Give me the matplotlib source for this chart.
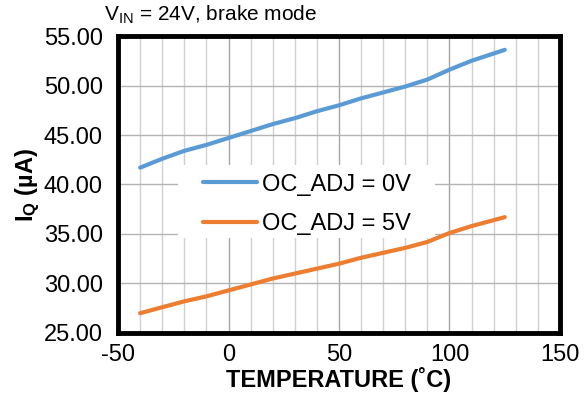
import matplotlib
matplotlib.use('Agg')
import matplotlib.pyplot as plt
from matplotlib.patches import Rectangle
from matplotlib.ticker import MultipleLocator, FormatStrFormatter

plt.rcParams['font.family'] = ['Liberation Sans', 'DejaVu Sans']
plt.rcParams['mathtext.fontset'] = 'custom'
plt.rcParams['mathtext.rm'] = 'Liberation Sans'
plt.rcParams['mathtext.bf'] = 'Liberation Sans:bold'
plt.rcParams['axes.unicode_minus'] = False

# quiescent current vs temperature, brake mode
temp = [-40, -30, -20, -10, 0, 10, 20, 30, 40, 50, 60, 70, 80, 90, 100, 110, 125]
iq_0v = [41.7, 42.6, 43.4, 44.0, 44.7, 45.4, 46.1, 46.7, 47.4, 48.0, 48.7, 49.3, 49.9, 50.6, 51.6, 52.5, 53.6]
iq_5v = [27.0, 27.6, 28.2, 28.7, 29.3, 29.9, 30.5, 31.0, 31.5, 32.0, 32.6, 33.1, 33.6, 34.2, 35.1, 35.8, 36.7]
labels = ['OC_ADJ = 0V', 'OC_ADJ = 5V']

fig = plt.figure(figsize=(5.86, 4.05), dpi=100)
ax = fig.add_axes([0.2014, 0.1778, 0.7542, 0.7333])

ax.plot(temp, iq_0v, color='#5b9bd5', lw=3, label=labels[0], solid_capstyle='round', zorder=3)
ax.plot(temp, iq_5v, color='#ed7d31', lw=3, label=labels[1], solid_capstyle='round', zorder=3)

ax.set_xlim(-50, 150)
ax.set_ylim(25, 55)
ax.xaxis.set_major_locator(MultipleLocator(50))
ax.xaxis.set_minor_locator(MultipleLocator(10))
ax.yaxis.set_major_locator(MultipleLocator(5))
ax.yaxis.set_major_formatter(FormatStrFormatter('%.2f'))

ax.grid(True, which='minor', axis='x', color='#d0d0d0', lw=1.0)
ax.grid(True, which='major', axis='x', color='#a6a6a6', lw=1.0)
ax.grid(True, which='major', axis='y', color='#b4b4b4', lw=1.0)
ax.set_axisbelow(True)

# white patch behind the legend hides the grid there
ax.add_patch(Rectangle((0.1357, 0.32), 0.581, 0.246, transform=ax.transAxes,
                       facecolor='white', edgecolor='none', zorder=1.5))

ax.tick_params(which='both', length=0, labelsize=17)
ax.tick_params(axis='y', pad=11)
ax.tick_params(axis='x', pad=8)
for s in ax.spines.values():
    s.set_linewidth(3.5)
    s.set_color('black')

ax.set_xlabel('TEMPERATURE (˚C)', fontsize=17, fontweight='bold', labelpad=0.5)
ax.set_ylabel(r'$\mathbf{I_Q}$ (µA)', fontsize=17, fontweight='bold', labelpad=1)
fig.text(0.1775, 0.963, r'V$_{\mathrm{IN}}$ = 24V, brake mode', fontsize=15, va='center', ha='left')

ax.legend(loc='upper left', bbox_to_anchor=(0.1923, 0.537), fontsize=17,
          frameon=False, handlelength=2.3, handletextpad=0.2, labelspacing=0.75,
          borderpad=0, borderaxespad=0)

fig.savefig('out.png', dpi=100)
